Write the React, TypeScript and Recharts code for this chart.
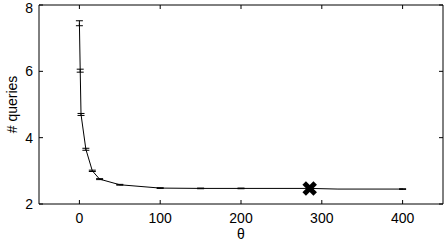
import React from 'react';
import { ComposedChart, Line, Scatter, ErrorBar, XAxis, YAxis } from 'recharts';

const thetas = [0, 1, 2, 8, 16, 25, 50, 100, 150, 200, 285, 320, 400];
const queries = [7.45, 6.02, 4.7, 3.65, 3.0, 2.75, 2.58, 2.48, 2.47, 2.47, 2.47, 2.45, 2.45];
const errors = [0.075, 0.045, 0.03, 0.03, 0.02, 0.015, 0.012, 0.01, 0.01, 0.01, 0, 0, 0.01];

const bestTheta = [285];
const bestQueries = [2.47];

const xTicks = [0, 100, 200, 300, 400];
const yTicks = [2, 4, 6, 8];

const lineData = thetas.map((t, i) => ({ theta: t, q: queries[i], err: errors[i] }));
const bestData = bestTheta.map((t, i) => ({ theta: t, q: bestQueries[i] }));

const font = { fill: '#000', fontSize: 14, fontFamily: '"Liberation Sans", Arial, sans-serif' };
const noLabel = () => '';

const Cross = (props: any) => {
  const { cx, cy } = props;
  const r = 5.5;
  return (
    <g stroke="#000" strokeWidth={5}>
      <line x1={cx - r} y1={cy - r} x2={cx + r} y2={cy + r} />
      <line x1={cx - r} y1={cy + r} x2={cx + r} y2={cy - r} />
    </g>
  );
};

const YLabel = (props: any) => {
  const vb = props.viewBox || { x: 0, y: 0, width: 0, height: 0 };
  const x = vb.x + 12;
  const y = vb.y + vb.height / 2;
  return (
    <text x={x} y={y} transform={`rotate(-90 ${x} ${y})`} textAnchor="middle" dominantBaseline="central" {...font}>
      # queries
    </text>
  );
};

export default function App() {
  return (
    <div style={{ position: 'absolute', left: 0, top: 0, background: '#fff' }}>
      <ComposedChart width={444} height={246} margin={{ top: 4, right: 0, left: 0, bottom: 0 }}>
        <XAxis
          xAxisId={0}
          dataKey="theta"
          type="number"
          domain={[-50, 450]}
          ticks={xTicks}
          allowDataOverflow
          height={42}
          stroke="#000"
          tickSize={-4}
          tickMargin={13}
          tick={font}
          label={{ value: 'θ', position: 'insideBottom', offset: 7, ...font }}
        />
        <XAxis
          xAxisId="top"
          orientation="top"
          dataKey="theta"
          type="number"
          domain={[-50, 450]}
          ticks={xTicks}
          allowDataOverflow
          height={1}
          stroke="#000"
          tickSize={-4}
          tickFormatter={noLabel}
        />
        <YAxis
          yAxisId={0}
          type="number"
          domain={[2, 8]}
          ticks={yTicks}
          allowDataOverflow
          width={39}
          stroke="#000"
          tickSize={-4}
          tickMargin={10}
          tick={font}
          label={<YLabel />}
        />
        <YAxis
          yAxisId="right"
          orientation="right"
          type="number"
          domain={[2, 8]}
          ticks={yTicks}
          allowDataOverflow
          width={1}
          stroke="#000"
          tickSize={-4}
          tickFormatter={noLabel}
        />
        <Line
          data={lineData}
          dataKey="q"
          type="linear"
          stroke="#000"
          strokeWidth={1}
          dot={false}
          isAnimationActive={false}
        >
          <ErrorBar dataKey="err" width={3.5} stroke="#000" strokeWidth={1} isAnimationActive={false} />
        </Line>
        <Line
          data={lineData}
          xAxisId="top"
          yAxisId="right"
          dataKey="q"
          stroke="none"
          dot={false}
          activeDot={false}
          isAnimationActive={false}
        />
        <Scatter data={bestData} dataKey="q" shape={<Cross />} isAnimationActive={false} />
      </ComposedChart>
    </div>
  );
}
